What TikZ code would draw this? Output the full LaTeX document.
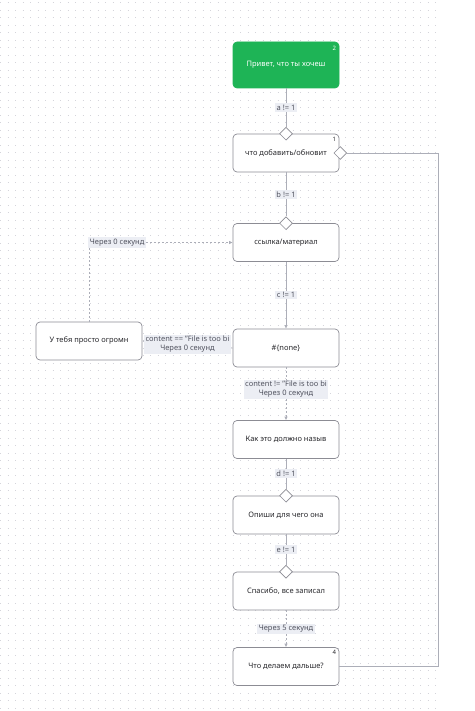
\documentclass[tikz,border=0pt]{standalone}
\usepackage{fontspec}
\setmainfont{Noto Sans}
\usetikzlibrary{positioning,arrows.meta,shapes.geometric,calc}
\definecolor{botgreen}{RGB}{30,180,86}
\definecolor{botgray}{RGB}{140,140,148}
\definecolor{botedge}{RGB}{172,174,184}
\definecolor{botlabel}{RGB}{236,238,244}
\definecolor{botdot}{RGB}{212,212,218}
\definecolor{bottext}{RGB}{40,40,44}
\definecolor{botcond}{RGB}{80,82,94}

\begin{document}
\begin{tikzpicture}[x=1pt,y=-1pt,font=\fontsize{7.5}{9}\selectfont,
  blockbox/.style={draw=botgray,rounded corners=4pt,minimum width=106pt,
    minimum height=38pt,inner sep=0pt,text=bottext,fill=white,line width=0.7pt},
  startbox/.style={blockbox,fill=botgreen,draw=botgreen,text=white,
    minimum height=46pt,font=\fontsize{7.5}{9}\selectfont\bfseries},
  port/.style={diamond,draw=botgray,fill=white,minimum size=13pt,
    inner sep=0pt,line width=0.7pt},
  numtag/.style={font=\fontsize{6}{7}\selectfont\bfseries,anchor=north east,
    inner sep=0pt},
  link/.style={botedge,line width=0.8pt},
  waitlink/.style={botedge,line width=0.8pt,dash pattern=on 2pt off 2pt,
    -{Latex[length=3.5pt,width=3.5pt]}},
  cond/.style={fill=botlabel,text=botcond,inner sep=1.5pt,align=center}]
  \useasboundingbox (0,0) rectangle (474,711);
  % dotted background
  \foreach \gy in {3,10.5,...,711}{
    \draw[botdot,line width=1pt,dash pattern=on 1pt off 6.5pt] (0,\gy) -- (440,\gy);
  }
  % blocks
  \node[startbox] (hello) at (286,65) {Привет, что ты хочеш};
  \node[blockbox] (ask) at (286,153) {что добавить/обновит};
  \node[blockbox] (material) at (286,242.5) {ссылка/материал};
  \node[blockbox] (none) at (286,348) {\#\{none\}};
  \node[blockbox] (huge) at (89,341) {У тебя просто огромн};
  \node[blockbox] (title) at (286,439.5) {Как это должно назыв};
  \node[blockbox] (describe) at (286,515) {Опиши для чего она};
  \node[blockbox] (thanks) at (286,591) {Спасибо, все записал};
  \node[blockbox] (next) at (286,666.5) {Что делаем дальше?};
  \node[numtag,text=white] (tag2) at ([xshift=-3pt,yshift=-4pt]hello.north east) {2};
  \node[numtag,text=bottext] (tag1) at ([xshift=-3pt,yshift=-3pt]ask.north east) {1};
  \node[numtag,text=bottext] (tag4) at ([xshift=-3pt,yshift=-3pt]next.north east) {4};
  % input ports
  \node[port] (pa) at (ask.north) {};
  \node[port] (pr) at ([xshift=1pt]ask.east) {};
  \node[port] (pb) at (material.north) {};
  \node[port] (pd) at (describe.north) {};
  \node[port] (pe) at (thanks.north) {};
  % connectors
  \draw[link] (hello) -- (pa) node[cond,midway] {a != 1};
  \draw[link] (ask) -- (pb) node[cond,midway] {b != 1};
  \draw[link,-{Latex[length=3.5pt,width=3.5pt]}] (material) -- (none)
    node[cond,midway] {c != 1};
  \draw[waitlink] (none.west) -- (huge.east)
    node[cond,midway] {content == "File is too bi\\Через 0 секунд};
  \draw[waitlink] (huge.north) |- (material.west)
    node[cond,anchor=west,pos=0.5,xshift=-1pt] {Через 0 секунд};
  \draw[waitlink] (none) -- (title)
    node[cond,pos=0.42] {content != "File is too bi\\Через 0 секунд};
  \draw[link] (title) -- (pd) node[cond,midway] {d != 1};
  \draw[link] (describe) -- (pe) node[cond,midway] {e != 1};
  \draw[waitlink] (thanks) -- (next) node[cond,midway] {Через 5 секунд};
  \coordinate (turn) at (438,0);
  \draw[link] (next.east) -- (next.east -| turn) |- (pr.east);
\end{tikzpicture}
\end{document}
